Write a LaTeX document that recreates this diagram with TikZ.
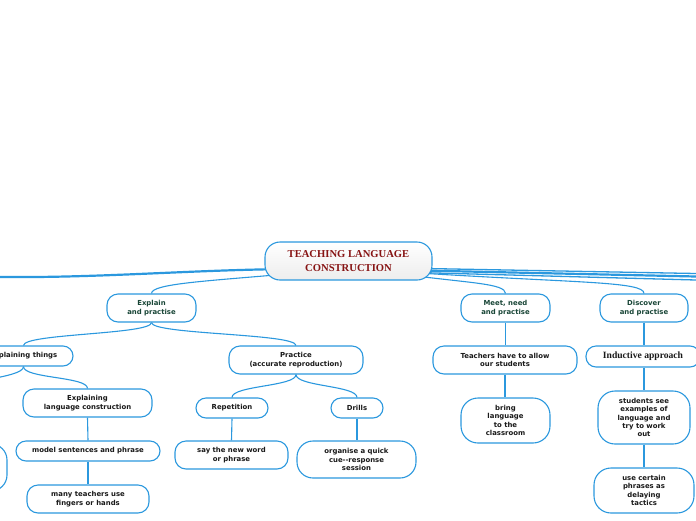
\documentclass[tikz,border=0pt]{standalone}
\usepackage{fontspec}
\usetikzlibrary{calc,backgrounds}
\newfontfamily\mmsans{DejaVu Sans}
\newfontfamily\mmserif{Liberation Serif}
\definecolor{lineblue}{RGB}{43,152,222}
\definecolor{rootred}{RGB}{135,20,20}
\definecolor{maingreen}{RGB}{25,70,55}
\definecolor{txt}{RGB}{25,25,25}
\tikzset{
  box/.style={draw=lineblue, line width=1.1pt, fill=white, rounded corners=#1, align=center,
    inner sep=0pt, text=txt, font=\mmsans\bfseries\fontsize{6.9}{8.3}\selectfont},
  box/.default=11pt,
  mainbox/.style={box=11pt, text=maingreen},
  rootbox/.style={draw=lineblue, line width=1.1pt, rounded corners=15pt, top color=white,
    bottom color=gray!14, align=center, inner sep=0pt, text=rootred,
    font=\mmserif\bfseries\fontsize{10.6}{13.5}\selectfont},
  conn/.style={draw=lineblue, line width=1.1pt},
  bigconn/.style={draw=lineblue, line width=2.2pt},
}
\begin{document}
\begin{tikzpicture}[x=1pt,y=1pt]
\useasboundingbox (0,0) rectangle (696,-520);
\clip (0,0) rectangle (696,-520);
% root
\node[rootbox, minimum width=167, minimum height=38] (root) at (348.5,-261) {TEACHING LANGUAGE\\CONSTRUCTION};
% main branches
\node[mainbox, minimum width=89, minimum height=28] (explain) at (151.5,-308) {Explain\\and practise};
\node[mainbox, minimum width=89, minimum height=28] (meet) at (505.5,-308) {Meet, need\\and practise};
\node[mainbox, minimum width=88, minimum height=28] (discover) at (644,-308) {Discover\\and practise};
% explain subtree
\node[box=10pt, minimum width=99, minimum height=20] (things) at (23.5,-356) {Explaining things};
\node[box, minimum width=129, minimum height=28] (elc) at (87.5,-403) {Explaining\\language construction};
\node[box=10pt, minimum width=144, minimum height=20] (model) at (88,-451) {model sentences and phrase};
\node[box, minimum width=122, minimum height=28] (many) at (88,-499) {many teachers use\\fingers or hands};
\node[box=16pt, minimum width=90, minimum height=47] (leftcut) at (-38,-467.5) {};
\coordinate (offthings) at (-45,-392);
\node[box, minimum width=134, minimum height=28] (practice) at (296,-360) {Practice\\(accurate reproduction)};
\node[box=10pt, minimum width=72, minimum height=20] (repetition) at (232,-408) {Repetition};
\node[box=10pt, minimum width=52, minimum height=20] (drills) at (357,-408) {Drills};
\node[box, minimum width=113, minimum height=28] (say) at (231.5,-455) {say the new word\\or phrase};
\node[box=16pt, minimum width=119, minimum height=37] (organise) at (356.5,-459.5) {organise a quick\\cue--response\\session};
% meet subtree
\node[box, minimum width=144, minimum height=28] (teachers) at (505,-360) {Teachers have to allow\\our students};
\node[box=17pt, minimum width=89, minimum height=45] (bring) at (505.5,-420.5) {bring\\language\\to the\\classroom};
% discover subtree
\node[box=10pt, minimum width=114, minimum height=21, font=\mmserif\bfseries\fontsize{9.6}{11}\selectfont] (inductive) at (643,-356.5) {Inductive approach};
\node[box=17pt, minimum width=92, minimum height=53] (students) at (644,-417.5) {students see\\examples of\\language and\\try to work\\out};
\node[box=17pt, minimum width=100, minimum height=45] (usecertain) at (644,-490.5) {use certain\\phrases as\\delaying\\tactics};
% off-canvas ends
\coordinate (offL) at (0,-277);
\coordinate (offR1) at (696,-273.5);
\coordinate (offR2) at (696,-276.5);
\coordinate (offR3) at (696,-280);
\begin{pgfonlayer}{background}
\draw[bigconn] ($(root.center)+(-60,-8)$) .. controls +(-100,-1) and +(100,-1) .. (offL);
\draw[conn, line width=1.3pt] ($(root.center)+(50,-7)$) -- (offR1);
\draw[bigconn] ($(root.center)+(50,-9)$) -- (offR2);
\draw[conn, line width=1.3pt] ($(root.center)+(50,-11)$) -- (offR3);
\draw[conn] ($(root.center)+(-50,-12)$) .. controls +(-90,-8) and +(0,10) .. (explain.north);
\draw[conn] ($(root.center)+(60,-14)$) .. controls +(60,-8) and +(0,10) .. (meet.north);
\draw[conn] ($(root.center)+(70,-12)$) .. controls +(160,-10) and +(0,12) .. (discover.north);
% explain children
\draw[conn] (explain.south) .. controls +(0,-12) and +(0,12) .. (things.north);
\draw[conn] (explain.south) .. controls +(0,-12) and +(0,12) .. (practice.north);
\draw[conn] (things.south) .. controls +(0,-12) and +(0,12) .. (offthings);
\draw[conn] (things.south) .. controls +(0,-12) and +(0,12) .. (elc.north);
\draw[conn] (elc.south) -- (model.north);
\draw[conn] (model.south) -- (many.north);
\draw[conn] (practice.south) .. controls +(0,-12) and +(0,12) .. (repetition.north);
\draw[conn] (practice.south) .. controls +(0,-12) and +(0,12) .. (drills.north);
\draw[conn] (repetition.south) -- (say.north);
\draw[conn] (drills.south) -- (drills.south |- organise.north);
% meet children
\draw[conn] (meet.south) -- (teachers.north -| meet.south);
\draw[conn] (teachers.south) -- (teachers.south |- bring.north);
% discover children
\draw[conn] (discover.south) -- (inductive.north -| discover.south);
\draw[conn] (inductive.south -| students.north) -- (students.north);
\draw[conn] (students.south) -- (usecertain.north);
\end{pgfonlayer}
\end{tikzpicture}
\end{document}
